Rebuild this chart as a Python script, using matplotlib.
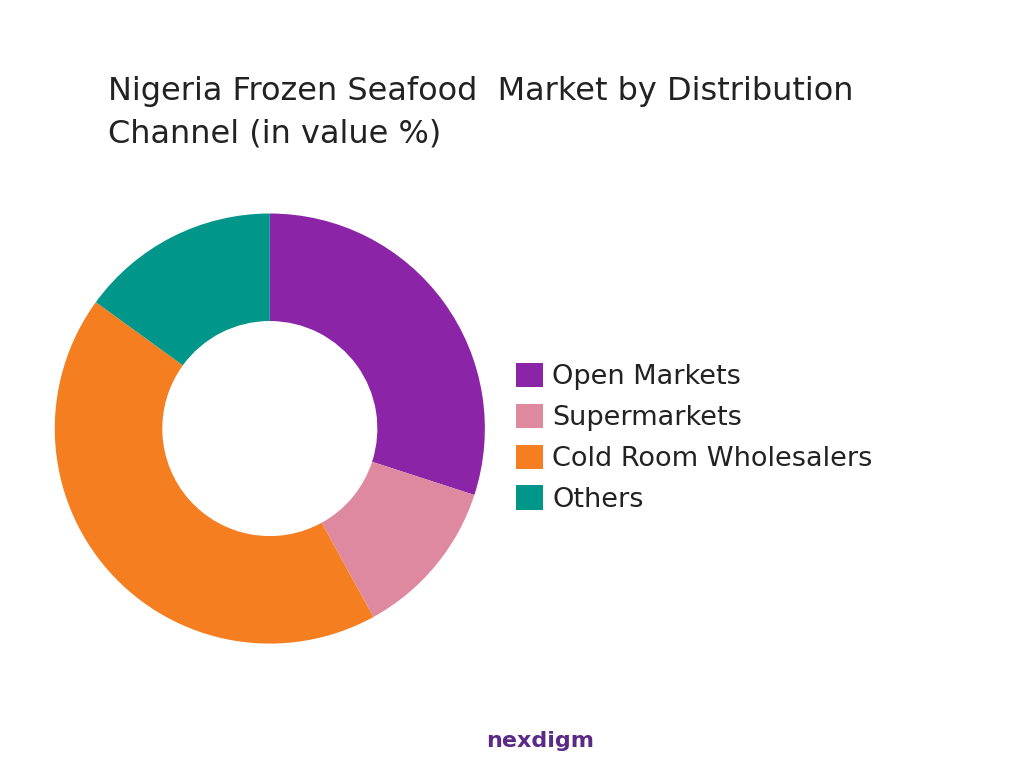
import matplotlib
matplotlib.use("Agg")
import matplotlib.pyplot as plt

labels = ["Open Markets", "Supermarkets", "Cold Room Wholesalers", "Others"]
values = [30, 12, 43, 15]
colors = ["#8C24A8", "#DF89A0", "#F47E20", "#01968A"]

plt.rcParams['font.family'] = ['DejaVu Sans']
fig = plt.figure(figsize=(10.24, 7.68), dpi=100)
ax = fig.add_axes([0.001, 0.092, 0.525, 0.70])
wedges, _ = ax.pie(values, colors=colors, startangle=90, counterclock=False,
                   wedgeprops=dict(width=0.5, linewidth=0))
ax.set_aspect('equal')

fig.text(0.105, 0.853, "Nigeria Frozen Seafood  Market by Distribution\nChannel (in value %)",
         fontsize=23, color="#222222", va="center", linespacing=1.5)

fig.legend(wedges, labels, loc="center left", bbox_to_anchor=(0.48, 0.43),
           frameon=False, fontsize=19.5, handlelength=1.0, handleheight=1.0,
           handletextpad=0.35, labelspacing=0.5, labelcolor="#222222")

fig.text(0.527, 0.035, "nexdigm", fontsize=16, fontweight="bold", color="#5B2A86",
         ha="center", va="center")

fig.savefig("out.png", dpi=100, facecolor="white")
